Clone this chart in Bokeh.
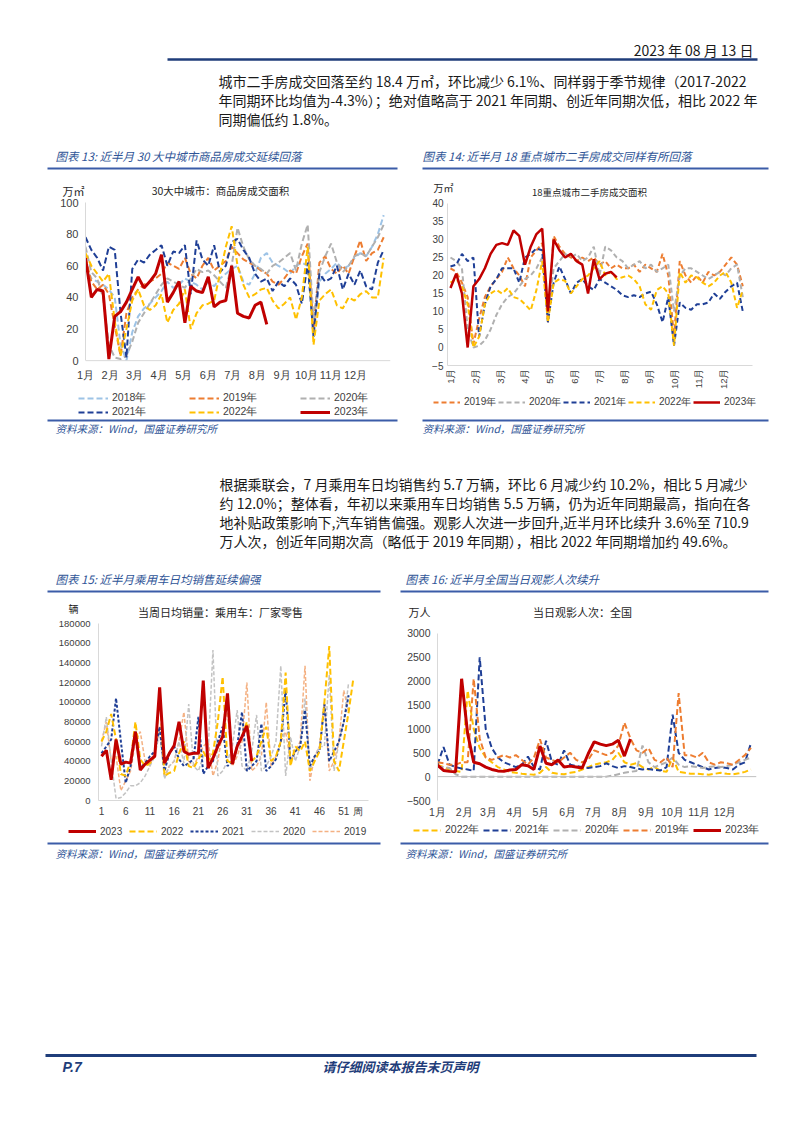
import math
from bokeh.plotting import figure
from bokeh.layouts import column, row
from bokeh.models import Range1d, Legend, LegendItem, FixedTicker, Span, BasicTickFormatter
from bokeh.core.properties import value
from bokeh.embed import file_html
from bokeh.resources import INLINE

CJK = "Noto Sans CJK SC"
LAT = "Liberation Sans"
PW = 802

# ---------------- texts ----------------
date_text = "2023 年 08 月 13 日"
para1 = [
    "城市二手房成交回落至约 18.4 万㎡，环比减少 6.1%、同样弱于季节规律（2017-2022",
    "年同期环比均值为-4.3%）；绝对值略高于 2021 年同期、创近年同期次低，相比 2022 年",
    "同期偏低约 1.8%。",
]
para2 = [
    "根据乘联会，7 月乘用车日均销售约 5.7 万辆，环比 6 月减少约 10.2%，相比 5 月减少",
    "约 12.0%；整体看，年初以来乘用车日均销售 5.5 万辆，仍为近年同期最高，指向在各",
    "地补贴政策影响下,汽车销售偏强。观影人次进一步回升,近半月环比续升 3.6%至 710.9",
    "万人次，创近年同期次高（略低于 2019 年同期），相比 2022 年同期增加约 49.6%。",
]
title13 = "图表 13: 近半月 30 大中城市商品房成交延续回落"
title14 = "图表 14: 近半月 18 重点城市二手房成交同样有所回落"
title15 = "图表 15: 近半月乘用车日均销售延续偏强"
title16 = "图表 16: 近半月全国当日观影人次续升"
source_text = "资料来源：Wind，国盛证券研究所"
footer_text = "请仔细阅读本报告末页声明"
page_no = "P.7"

chart13_title = "30大中城市：商品房成交面积"
chart14_title = "18重点城市二手房成交面积"
chart15_title = "当周日均销量：乘用车：厂家零售"
chart16_title = "当日观影人次：全国"
unit13 = "万㎡"
unit14 = "万㎡"
unit15 = "辆"
unit16 = "万人"
unit15_x = "周"

# ---------------- data ----------------
month_labels = ["1月", "2月", "3月", "4月", "5月", "6月", "7月", "8月", "9月", "10月", "11月", "12月"]
month_start_days = [0, 31, 59, 90, 120, 151, 181, 212, 243, 273, 304, 334]
week_ticks = [1, 6, 11, 16, 21, 26, 31, 36, 41, 46, 51]

# chart 13: weekly, 万㎡
c13_2018 = [60, 52, 50, 48, 45, 40, 10, 0, 18, 28, 33, 36, 40, 44, 50, 46, 48, 52, 50, 48,
            45, 50, 47, 52, 55, 58, 60, 50, 48, 55, 65, 68, 62, 60, 58, 55,
            60, 62, 60, 20, 50, 55, 58, 62, 58, 60, 65, 68, 66, 72, 80, 92]
c13_2019 = [65, 50, 45, 48, 42, 22, 3, 30, 40, 45, 48, 50, 52, 55, 62, 60, 58, 65, 55, 52,
            60, 65, 57, 60, 63, 72, 68, 64, 62, 60, 57, 55, 50, 48, 52, 57,
            55, 66, 74, 20, 62, 66, 58, 55, 60, 55, 66, 76, 63, 68, 70, 78]
c13_2020 = [72, 56, 52, 40, 10, 2, 1, 3, 12, 24, 30, 36, 42, 48, 52, 50, 48, 46, 52, 58,
            56, 57, 54, 50, 46, 60, 84, 72, 64, 60, 58, 55, 60, 62, 65, 68,
            57, 74, 86, 25, 56, 66, 74, 62, 56, 60, 66, 68, 66, 72, 78, 86]
c13_2021 = [78, 70, 65, 57, 72, 70, 30, 2, 58, 64, 62, 67, 70, 73, 60, 69, 68, 73, 42, 76,
            64, 60, 73, 56, 60, 75, 77, 70, 65, 55, 50, 52, 44, 50, 47, 52, 48, 36, 62, 15,
            55, 50, 52, 60, 45, 55, 48, 57, 47, 45, 62, 70]
c13_2022 = [68, 60, 55, 50, 55, 25, 3, 20, 38, 45, 35, 32, 35, 42, 24, 32, 36, 45, 20, 30,
            35, 36, 38, 55, 72, 85, 60, 48, 40, 42, 45, 46, 38, 33, 36, 40, 26, 40, 72, 10,
            38, 42, 45, 35, 33, 40, 38, 42, 44, 40, 40, 65]
c13_2023 = [65, 40, 45, 44, 1, 28, 31, 37, 45, 53, 46, 50, 55, 67, 37, 43, 50, 24, 47, 44,
            43, 53, 34, 37, 38, 60, 30, 28, 27, 35, 37, 23]

# chart 14: weekly, 万㎡
c14_2019 = [22, 21, 18, 14, 1, 8, 14, 17, 19, 21, 25, 22, 20, 17, 25, 27, 29, 7, 31, 28,
            26, 25, 24, 25, 24, 25, 23, 24, 22, 23, 22, 22, 23, 21, 23, 22, 21, 26, 20, 3,
            24, 20, 18, 20, 18, 21, 20, 21, 23, 25, 23, 17]
c14_2020 = [25, 24, 22, 5, 0, 0.5, 2, 5, 9, 12, 14, 15, 17, 19, 20, 22, 25, 9, 22, 24,
            26, 25, 26, 24, 25, 28, 20, 28, 27, 25, 24, 22, 23, 24, 22, 23, 21, 22, 23, 10,
            20, 22, 22, 21, 20, 19, 20, 21, 20, 22, 23, 14]
c14_2021 = [22.5, 23, 26, 24, 25, 3, 12, 17, 19, 22, 22, 22, 18, 25, 26, 27.5, 27, 7, 18, 22.5,
            19, 15, 18, 19, 17, 16, 19, 18, 17, 16, 14.5, 14, 14.5, 14, 15, 15.5, 12, 7, 14, 0.5,
            12.5, 11, 10.5, 12, 12, 12.5, 15, 13.5, 15.5, 17, 18, 10]
c14_2022 = [18, 19, 17, 12, 0, 3, 12, 15, 16, 15, 16.5, 14, 13.5, 12, 10.3, 16, 24, 7, 18, 19,
            18.5, 15, 17, 19, 20, 22, 24, 20, 21, 19, 19.5, 20, 19, 17, 12, 10.5, 16, 17, 15, 0.5,
            21, 18, 20, 19.5, 18, 17, 18, 20, 21, 18, 11, 16]
c14_2023 = [16.5, 20.5, 15, 0, 17, 19, 22, 26, 28.5, 29, 28.5, 32.5, 31, 23, 28, 31.5, 33, 10, 30, 27,
            25, 26, 24, 23, 15, 24.5, 19, 20.5, 21, 19.5]

# chart 15: weekly, 辆
c15_2023 = [45000, 51000, 21000, 62000, 37000, 39000, 38000, 70000, 31000, 37000, 41000, 45000,
            115000, 38000, 48000, 56000, 80000, 50000, 47000, 48000, 48000, 122000, 33000, 43000,
            55000, 65000, 109000, 37000, 55000, 65000, 76000, 40000]
c15_2022 = [60000, 70000, 88000, 62000, 27000, 25000, 40000, 80000, 42000, 35000, 38000, 45000,
            110000, 25000, 28000, 30000, 48000, 60000, 35000, 33000, 42000, 50000, 40000, 48000,
            80000, 126000, 40000, 38000, 55000, 65000, 80000, 40000, 45000, 60000, 75000, 40000,
            45000, 60000, 130000, 35000, 55000, 50000, 60000, 30000, 40000, 50000, 100000, 157000,
            40000, 30000, 60000, 90000, 125000]
c15_2021 = [48000, 55000, 62000, 104000, 60000, 18000, 35000, 70000, 33000, 38000, 45000, 50000,
            75000, 30000, 48000, 55000, 42000, 35000, 38000, 42000, 85000, 27000, 35000, 40000,
            60000, 75000, 35000, 40000, 55000, 90000, 30000, 35000, 40000, 78000, 30000, 35000,
            42000, 60000, 113000, 40000, 50000, 55000, 92000, 35000, 45000, 50000, 98000, 40000,
            50000, 60000, 80000, 107000]
c15_2020 = [55000, 85000, 40000, 2000, 3000, 8000, 15000, 15000, 18000, 25000, 35000, 45000,
            70000, 22000, 35000, 40000, 60000, 38000, 98000, 35000, 30000, 45000, 50000, 153000,
            25000, 30000, 40000, 55000, 92000, 35000, 30000, 50000, 87000, 30000, 35000, 45000,
            60000, 137000, 25000, 65000, 40000, 55000, 104000, 30000, 45000, 55000, 55000, 128000,
            30000, 60000, 80000, 120000]
c15_2019 = [60000, 80000, 40000, 45000, 10000, 20000, 30000, 60000, 70000, 40000, 35000, 50000,
            75000, 25000, 35000, 40000, 60000, 90000, 40000, 35000, 45000, 55000, 60000, 25000,
            40000, 70000, 90000, 35000, 45000, 60000, 120000, 30000, 35000, 45000, 100000, 35000,
            45000, 60000, 70000, 40000, 50000, 60000, 137000, 20000, 45000, 55000, 100000, 30000,
            40000, 60000, 112000, 90000]

# chart 16: sampled every 7 days, 万人
c16_2023 = [240, 130, 110, 100, 2050, 900, 300, 270, 200, 150, 120, 110, 140, 150, 250, 230,
            150, 640, 280, 250, 350, 200, 220, 200, 180, 480, 730, 680, 650, 680, 760, 430, 790]
c16_2022 = [250, 200, 150, 120, 100, 1800, 1000, 600, 400, 300, 200, 150, 100, 80, 60, 50,
            40, 80, 200, 80, 60, 50, 80, 100, 150, 200, 250, 280, 300, 350, 500, 300, 250, 280,
            200, 150, 200, 120, 100, 400, 100, 80, 60, 60, 50, 40, 60, 80, 60, 50, 70, 100, 150]
c16_2021 = [250, 620, 250, 200, 170, 150, 120, 2500, 1000, 600, 400, 300, 250, 200, 250, 420,
            200, 150, 750, 300, 250, 550, 250, 220, 200, 180, 200, 220, 280, 220, 180, 220, 200,
            170, 150, 160, 140, 130, 200, 1300, 500, 350, 300, 250, 200, 150, 180, 200, 180, 150,
            250, 300, 700]
c16_2020 = [200, 200, 180, 50, 0, 0, 0, 0, 0, 0, 0, 0, 0, 0, 0, 0, 0, 0, 0, 0, 0, 0, 0, 0, 0,
            0, 0, 0, 0, 20, 50, 80, 100, 120, 650, 300, 200, 250, 300, 400, 250, 200, 220, 200,
            180, 200, 220, 200, 220, 250, 300, 350, 400]
c16_2019 = [300, 280, 250, 250, 300, 300, 2050, 800, 400, 350, 400, 450, 400, 450, 350, 250,
            400, 780, 400, 350, 300, 400, 500, 350, 300, 350, 550, 500, 450, 500, 650, 1130, 800,
            550, 500, 600, 350, 300, 400, 200, 1750, 450, 450, 400, 500, 300, 250, 300, 280, 250,
            350, 450, 600]

# ---------------- styles ----------------
C18 = "#9DC3E6"
C19 = "#ED7D31"
C20 = "#B0B0B0"
C21 = "#1F3F96"
C22 = "#FFC000"
C23 = "#C00000"
C19L = "#F4B183"
C20L = "#C3C3C3"
BLUE_T = "#2F5597"
BLUE_R = "#3B5CA8"
NAVY = "#1F3D7A"
TXT = "#1a1a1a"
AX = "#404040"
CT = "#262626"
AXL = "#D9D9D9"
DASH = "6 3"

S13 = [("2018年", c13_2018, dict(line_color=C18, line_width=2, line_dash=DASH)),
       ("2019年", c13_2019, dict(line_color=C19, line_width=2, line_dash=DASH)),
       ("2020年", c13_2020, dict(line_color=C20, line_width=2, line_dash=DASH)),
       ("2021年", c13_2021, dict(line_color=C21, line_width=2, line_dash=DASH)),
       ("2022年", c13_2022, dict(line_color=C22, line_width=2, line_dash=DASH)),
       ("2023年", c13_2023, dict(line_color=C23, line_width=3, line_dash="solid"))]
S14 = [("2019年", c14_2019, dict(line_color=C19, line_width=2, line_dash="5 3")),
       ("2020年", c14_2020, dict(line_color=C20, line_width=2, line_dash="5 3")),
       ("2021年", c14_2021, dict(line_color=C21, line_width=2, line_dash="5 3")),
       ("2022年", c14_2022, dict(line_color=C22, line_width=2, line_dash="5 3")),
       ("2023年", c14_2023, dict(line_color=C23, line_width=2.5, line_dash="solid"))]
S15 = [("2019", c15_2019, dict(line_color=C19L, line_width=1.5, line_dash="4 2")),
       ("2020", c15_2020, dict(line_color=C20L, line_width=1.5, line_dash="4 2")),
       ("2021", c15_2021, dict(line_color=C21, line_width=2, line_dash="3 2")),
       ("2022", c15_2022, dict(line_color=C22, line_width=2, line_dash="6 3")),
       ("2023", c15_2023, dict(line_color=C23, line_width=3, line_dash="solid"))]
S16 = [("2022年", c16_2022, dict(line_color=C22, line_width=2, line_dash=DASH)),
       ("2021年", c16_2021, dict(line_color=C21, line_width=2, line_dash=DASH)),
       ("2020年", c16_2020, dict(line_color=C20, line_width=2, line_dash=DASH)),
       ("2019年", c16_2019, dict(line_color=C19, line_width=2, line_dash=DASH)),
       ("2023年", c16_2023, dict(line_color=C23, line_width=3, line_dash="solid"))]
legend_order15 = ["2023", "2022", "2021", "2020", "2019"]


def page_fig(h):
    p = figure(width=PW, height=h, x_range=Range1d(0, PW), y_range=Range1d(h, 0),
               output_backend="svg", toolbar_location=None, x_axis_type=None, y_axis_type=None,
               min_border=0)
    p.outline_line_color = None
    p.background_fill_color = "white"
    p.border_fill_color = "white"
    return p


def T(p, oy, x, y, s, size, color=TXT, style="normal", align="left", font=CJK):
    p.text(x=[x], y=[y - oy], text=[s], text_font=value(font), text_font_size=f"{size}px",
           text_color=color, text_font_style=style, text_align=align, text_baseline="middle")


def R(p, oy, x0, x1, y, color=BLUE_R, width=2):
    p.segment(x0=[x0], y0=[y - oy], x1=[x1], y1=[y - oy], line_color=color, line_width=width)


def page_legend(p, fig_top, fig_h, series, order, x, top_y, gw, lw, size, item_h=12, ncols=None):
    styles = {name: st for name, _, st in series}
    items = []
    for name in order:
        r = p.line(x=[-60, -50], y=[-60, -50], **styles[name])
        items.append(LegendItem(label=name, renderers=[r]))
    nrows = 1 if not ncols else math.ceil(len(order) / ncols)
    vy = fig_h - (top_y - fig_top) - nrows * item_h
    lg = Legend(items=items, location=(x, vy), orientation="horizontal", glyph_width=gw,
                glyph_height=item_h, label_width=lw, label_height=item_h, label_standoff=4,
                spacing=0, padding=0, margin=0, label_text_font=LAT,
                label_text_font_size=f"{size}px", label_text_color=AX,
                background_fill_alpha=0, border_line_alpha=0)
    if ncols:
        lg.ncols = ncols
    p.add_layout(lg)


def chart_fig(w, h, left, right, top, bottom, xr, yr):
    p = figure(width=w, height=h, x_range=Range1d(*xr), y_range=Range1d(*yr),
               output_backend="svg", toolbar_location=None,
               min_border_left=left, min_border_right=right,
               min_border_top=top, min_border_bottom=bottom)
    p.xgrid.visible = False
    p.ygrid.visible = False
    p.outline_line_color = None
    p.background_fill_color = "white"
    p.border_fill_color = "white"
    return p


def style_axis(ax, size, standoff, line_color=AXL):
    ax.axis_line_color = line_color
    ax.major_tick_line_color = None
    ax.minor_tick_line_color = None
    ax.major_tick_out = 0
    ax.major_tick_in = 0
    ax.minor_tick_out = 0
    ax.minor_tick_in = 0
    ax.major_label_text_font = LAT
    ax.major_label_text_font_size = size
    ax.major_label_text_color = AX
    ax.major_label_standoff = standoff


# ---------------- top page part (y 0..197) ----------------
TOP0, TOPH = 0, 197
top = page_fig(TOPH)
T(top, TOP0, 753, 49, date_text, 14, align="right")
R(top, TOP0, 167, 757, 59, NAVY, 2.5)
for i, s in enumerate(para1):
    T(top, TOP0, 218, 80 + i * 19.3, s, 14)
T(top, TOP0, 55, 155, title13, 11.5, BLUE_T, "italic")
T(top, TOP0, 422, 155, title14, 11.5, BLUE_T, "italic")
R(top, TOP0, 47, 397, 168)
R(top, TOP0, 422, 768, 168)
T(top, TOP0, 62, 190, unit13, 11, CT)
T(top, TOP0, 220, 190, chart13_title, 10.5, CT, align="center")
T(top, TOP0, 433, 187, unit14, 10, CT)
T(top, TOP0, 589, 191, chart14_title, 9.5, CT, align="center")

# ---------------- chart row A (y 197..392), common frame 202..370 ----------------
p13 = chart_fig(405, 195, 85, 15, 5, 22, (0, 12.42), (-3.07, 100))
p13.add_layout(Span(location=0, dimension="width", line_color=AXL, line_width=1))
for name, vals, st in S13:
    p13.line([w / 4.2 for w in range(len(vals))], vals, **st)
style_axis(p13.xaxis[0], "11px", 3, None)
style_axis(p13.yaxis[0], "11px", 7)
p13.yaxis.bounds = (0, 100)
p13.xaxis.ticker = FixedTicker(ticks=list(range(12)))
p13.xaxis.major_label_overrides = {i: m for i, m in enumerate(month_labels)}
p13.yaxis.ticker = FixedTicker(ticks=[0, 20, 40, 60, 80, 100])

p14 = chart_fig(397, 195, 42, 50, 5, 22, (-0.12, 12.16), (-5, 40.27))
for name, vals, st in S14:
    p14.line([w * 12 / 52 for w in range(len(vals))], vals, **st)
style_axis(p14.xaxis[0], "9.5px", 3)
style_axis(p14.yaxis[0], "10px", 4)
p14.yaxis.bounds = (-5, 40)
p14.xaxis.ticker = FixedTicker(ticks=list(range(12)))
p14.xaxis.major_label_overrides = {i: m for i, m in enumerate(month_labels)}
p14.xaxis.major_label_orientation = math.pi / 2
p14.yaxis.ticker = FixedTicker(ticks=[-5, 0, 5, 10, 15, 20, 25, 30, 35, 40])

# ---------------- middle page part (y 392..618) ----------------
MID0, MIDH = 392, 226
mid = page_fig(MIDH)
page_legend(mid, MID0, MIDH, S13, [s[0] for s in S13], 78, 395, 30, 77, 10.5, ncols=3)
page_legend(mid, MID0, MIDH, S14, [s[0] for s in S14], 433, 397, 27, 34, 10)
R(mid, MID0, 47, 397, 420)
R(mid, MID0, 422, 768, 420)
T(mid, MID0, 55, 428, source_text, 10.5, BLUE_T, "italic")
T(mid, MID0, 422, 428, source_text, 10.5, BLUE_T, "italic")
for i, s in enumerate(para2):
    T(mid, MID0, 219, 483 + i * 19.3, s, 14)
T(mid, MID0, 55, 578, title15, 11.5, BLUE_T, "italic")
T(mid, MID0, 405, 578, title16, 11.5, BLUE_T, "italic")
R(mid, MID0, 47, 380, 591)
R(mid, MID0, 400, 768, 591)
T(mid, MID0, 68, 608, unit15, 10, CT)
T(mid, MID0, 220, 611, chart15_title, 11, CT, align="center")
T(mid, MID0, 408, 611, unit16, 11, CT)
T(mid, MID0, 582, 611, chart16_title, 11, CT, align="center")

# ---------------- chart row B (y 618..820), common frame 623..802 ----------------
p15 = chart_fig(398, 202, 98, 30, 5, 18, (0.381, 56.1), (0, 180000))
for name, vals, st in S15:
    p15.line([k + 1 for k in range(len(vals))], vals, **st)
style_axis(p15.xaxis[0], "10px", 5)
style_axis(p15.yaxis[0], "9.5px", 8)
p15.xaxis.ticker = FixedTicker(ticks=week_ticks + [54])
p15.xaxis.major_label_overrides = {54: unit15_x}
p15.yaxis.ticker = FixedTicker(ticks=list(range(0, 180001, 20000)))
p15.yaxis.formatter = BasicTickFormatter(use_scientific=False)

p16 = chart_fig(404, 202, 39, 46, 5, 18, (0, 370.4), (-500, 3207))
p16.add_layout(Span(location=0, dimension="width", line_color="#BFBFBF", line_width=1))
for name, vals, st in S16:
    p16.line([7 * k for k in range(len(vals))], vals, **st)
style_axis(p16.xaxis[0], "10.5px", 5, None)
style_axis(p16.yaxis[0], "10.5px", 7)
p16.yaxis.bounds = (-500, 3000)
p16.xaxis.ticker = FixedTicker(ticks=month_start_days)
p16.xaxis.major_label_overrides = {d: m for d, m in zip(month_start_days, month_labels)}
p16.yaxis.ticker = FixedTicker(ticks=list(range(-500, 3001, 500)))

# ---------------- bottom page part (y 820..1133) ----------------
BOT0, BOTH = 820, 313
bot = page_fig(BOTH)
page_legend(bot, BOT0, BOTH, S15, legend_order15, 68, 825, 28, 29, 10)
page_legend(bot, BOT0, BOTH, S16, [s[0] for s in S16], 413, 825, 28, 38, 10.5)
R(bot, BOT0, 47, 380, 843)
R(bot, BOT0, 400, 768, 843)
T(bot, BOT0, 55, 853, source_text, 10.5, BLUE_T, "italic")
T(bot, BOT0, 405, 853, source_text, 10.5, BLUE_T, "italic")
R(bot, BOT0, 45, 756, 1055, NAVY, 3)
T(bot, BOT0, 62, 1066, page_no, 14, NAVY, "bold italic", font=LAT)
T(bot, BOT0, 400, 1066, footer_text, 13, NAVY, "bold italic", "center")

layout = column(top, row(p13, p14), mid, row(p15, p16), bot)
open("out.html", "w").write(file_html(layout, INLINE))
